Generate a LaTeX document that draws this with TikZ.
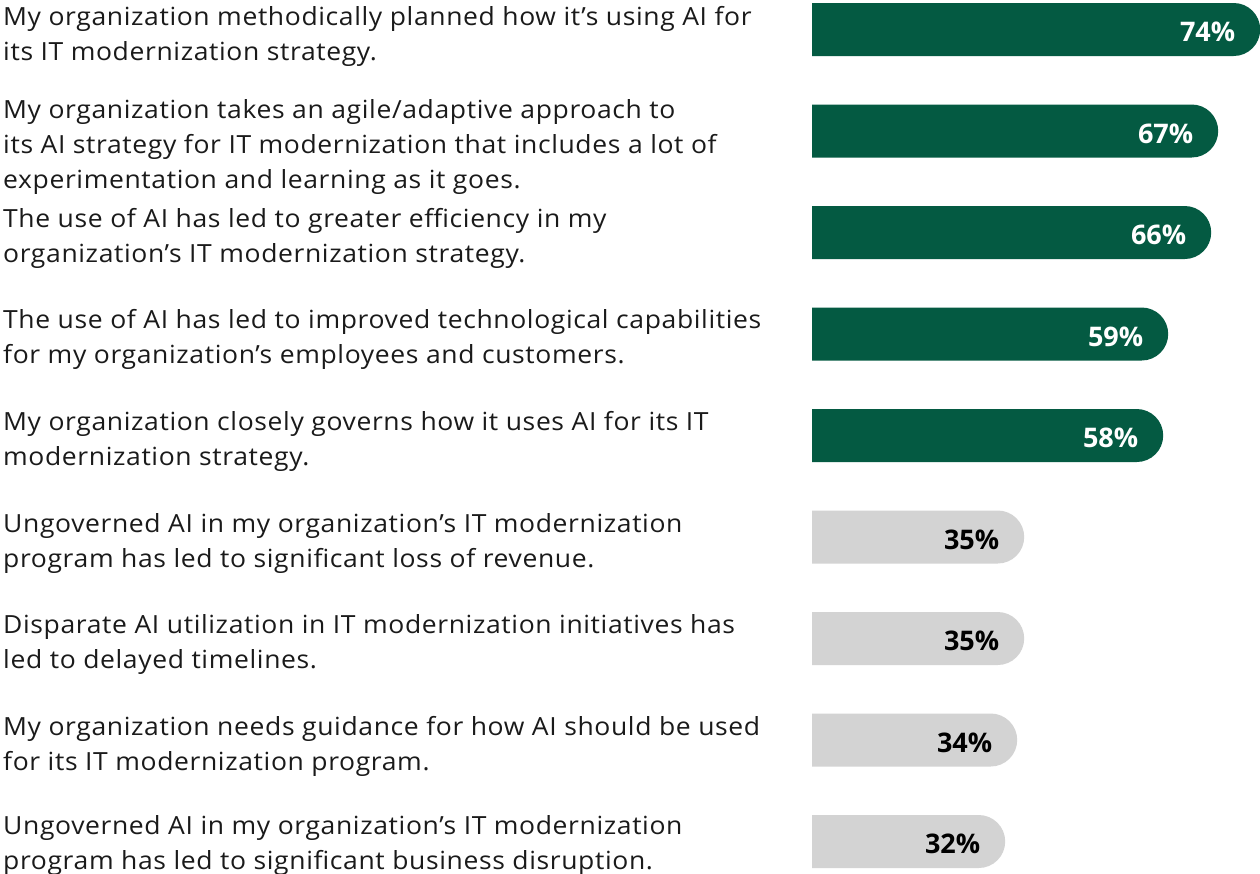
\documentclass[tikz,border=0pt]{standalone}
\usepackage{fontspec}
\setmainfont{Open Sans}
\newfontfamily\lblfont[FakeStretch=1.06,LetterSpace=2.5]{Open Sans}
\usetikzlibrary{shapes.misc}
\definecolor{barG}{HTML}{045A42}
\definecolor{barL}{HTML}{D3D3D3}
\definecolor{txt}{HTML}{1A1A1A}
\tikzset{
  lbl/.style={anchor=base west, align=left, inner sep=0pt, text=txt,
    font=\lblfont\fontsize{25}{35}\selectfont},
  bar/.style={rounded rectangle, rounded rectangle west arc=none, inner sep=0pt,
    minimum height=53pt, anchor=west, minimum width=#1},
  gbar/.style={bar=#1, fill=barG},
  lbar/.style={bar=#1, fill=barL},
  pct/.style={anchor=east, inner sep=0pt, font=\fontsize{27}{30}\selectfont\bfseries},
}
\begin{document}
\begin{tikzpicture}[x=1pt,y=-1pt]
\useasboundingbox (0,0) rectangle (1260,873);
% labels (anchored at the baseline of their last line)
\node[lbl] (t1) at (3,60) {My organization methodically planned how it’s using AI for\\its IT modernization strategy.};
\node[lbl] (t2) at (3,188) {My organization takes an agile/adaptive approach to\\its AI strategy for IT modernization that includes a lot of\\experimentation and learning as it goes.};
\node[lbl] (t3) at (3,262) {The use of AI has led to greater efficiency in my\\organization’s IT modernization strategy.};
\node[lbl] (t4) at (3,363) {The use of AI has led to improved technological capabilities\\for my organization’s employees and customers.};
\node[lbl] (t5) at (3,465) {My organization closely governs how it uses AI for its IT\\modernization strategy.};
\node[lbl] (t6) at (3,567) {Ungoverned AI in my organization’s IT modernization\\program has led to significant loss of revenue.};
\node[lbl] (t7) at (3,668) {Disparate AI utilization in IT modernization initiatives has\\led to delayed timelines.};
\node[lbl] (t8) at (3,770) {My organization needs guidance for how AI should be used\\for its IT modernization program.};
\node[lbl] (t9) at (3,869) {Ungoverned AI in my organization’s IT modernization\\program has led to significant business disruption.};
% bars
\node[gbar=448pt] (b1) at (812,29.5) {};
\node[gbar=406pt] (b2) at (812,131) {};
\node[gbar=399pt] (b3) at (812,232.5) {};
\node[gbar=356pt] (b4) at (812,334) {};
\node[gbar=351pt] (b5) at (812,435.5) {};
\node[lbar=212pt] (b6) at (812,537) {};
\node[lbar=212pt] (b7) at (812,638.5) {};
\node[lbar=205pt] (b8) at (812,740) {};
\node[lbar=193pt] (b9) at (812,841.5) {};
% values
\node[pct,text=white] (p1) at ([xshift=-25pt,yshift=-2.5pt]b1.east) {74\%};
\node[pct,text=white] (p2) at ([xshift=-25pt,yshift=-2.5pt]b2.east) {67\%};
\node[pct,text=white] (p3) at ([xshift=-25pt,yshift=-2.5pt]b3.east) {66\%};
\node[pct,text=white] (p4) at ([xshift=-25pt,yshift=-2.5pt]b4.east) {59\%};
\node[pct,text=white] (p5) at ([xshift=-25pt,yshift=-2.5pt]b5.east) {58\%};
\node[pct,text=black] (p6) at ([xshift=-25pt,yshift=-2.5pt]b6.east) {35\%};
\node[pct,text=black] (p7) at ([xshift=-25pt,yshift=-2.5pt]b7.east) {35\%};
\node[pct,text=black] (p8) at ([xshift=-25pt,yshift=-2.5pt]b8.east) {34\%};
\node[pct,text=black] (p9) at ([xshift=-25pt,yshift=-2.5pt]b9.east) {32\%};
\end{tikzpicture}
\end{document}
